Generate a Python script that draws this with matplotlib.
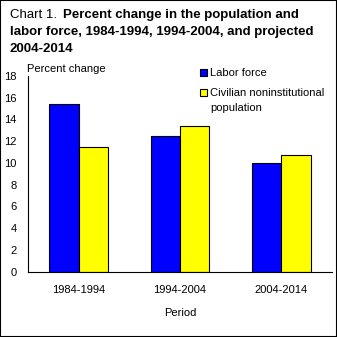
import matplotlib
matplotlib.use("Agg")
import matplotlib.pyplot as plt
import numpy as np
from matplotlib.patches import Rectangle

plt.rcParams['font.family'] = ['Liberation Sans', 'DejaVu Sans']

periods = ["1984-1994", "1994-2004", "2004-2014"]
labor_force = [15.4, 12.5, 10.0]
civ_population = [11.5, 13.4, 10.7]
yticks = [0, 2, 4, 6, 8, 10, 12, 14, 16, 18]

W = H = 337
fig = plt.figure(figsize=(3.37, 3.37), dpi=100)
fig.patches.append(Rectangle((0, 0), 1, 1, transform=fig.transFigure,
                             fill=False, edgecolor='black', linewidth=1.5))

ax = fig.add_axes([28 / W, (H - 271.5) / H, 304 / W, 195.5 / H])
x = np.arange(len(periods))
bw = 0.29
ax.bar(x - bw / 2, labor_force, bw, color='#0000ff', edgecolor='black', linewidth=0.8)
ax.bar(x + bw / 2, civ_population, bw, color='#ffff00', edgecolor='black', linewidth=0.8)

ax.set_xlim(-0.5, 2.5)
ax.set_ylim(0, 18)
ax.set_yticks(yticks)
ax.set_xticks(x)
ax.set_xticklabels(periods, fontsize=8)
ax.tick_params(axis='y', length=0, pad=8, labelsize=8)
ax.tick_params(axis='x', length=0, pad=10)
for s in ['top', 'right']:
    ax.spines[s].set_visible(False)
ax.set_xlabel("Period", fontsize=8, labelpad=9)

fig.text(27 / W, 1 - 69 / H, "Percent change", fontsize=8, va='center')

# title
fig.text(10 / W, 1 - 15 / H, "Chart 1.", fontsize=9.5, va='center')
fig.text(63 / W, 1 - 15 / H, "Percent change in the population and",
         fontsize=9.5, fontweight='bold', va='center')
fig.text(10 / W, 1 - 32 / H, "labor force, 1984-1994, 1994-2004, and projected",
         fontsize=9.5, fontweight='bold', va='center')
fig.text(10 / W, 1 - 49 / H, "2004-2014", fontsize=9.5, fontweight='bold', va='center')

# legend
sq = 7
fig.patches.append(Rectangle((200 / W, 1 - 76 / H), sq / W, sq / H, transform=fig.transFigure,
                             facecolor='#0000ff', edgecolor='black', linewidth=0.8))
fig.text(210 / W, 1 - 72.5 / H, "Labor force", fontsize=8, va='center')
fig.patches.append(Rectangle((200 / W, 1 - 96 / H), sq / W, sq / H, transform=fig.transFigure,
                             facecolor='#ffff00', edgecolor='black', linewidth=0.8))
fig.text(210 / W, 1 - 92.5 / H, "Civilian noninstitutional", fontsize=8, va='center')
fig.text(210 / W, 1 - 108 / H, "population", fontsize=8, va='center')

fig.savefig("out.png", dpi=100)
